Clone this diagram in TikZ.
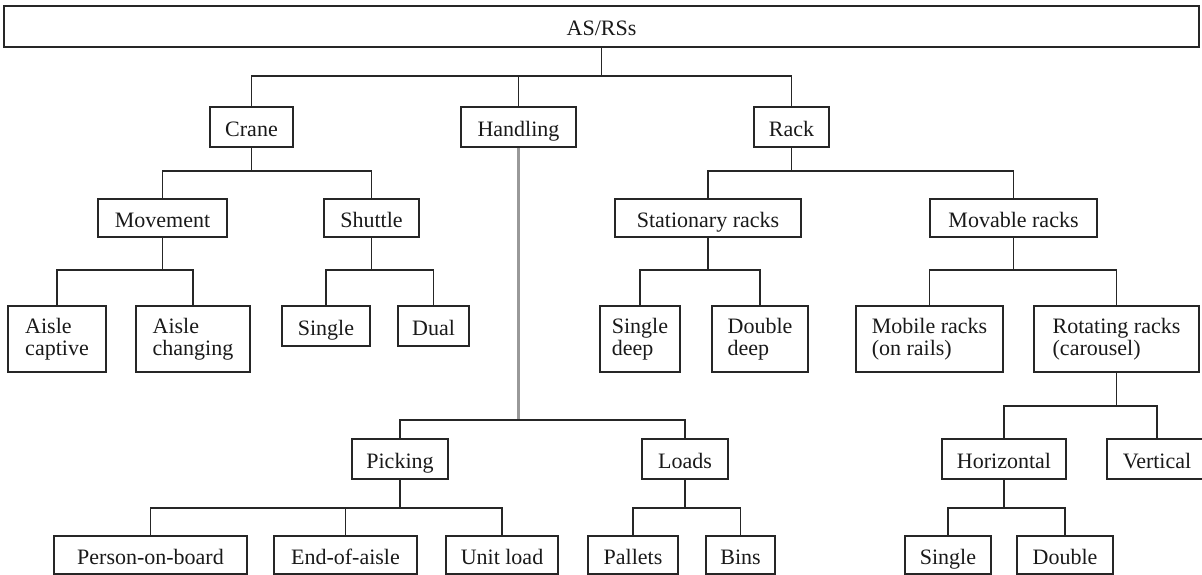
\documentclass[tikz,border=0pt]{standalone}
\usepackage{fontspec}
\setmainfont{Liberation Serif}
\newcommand\mkbox[7][sl]{\node[bx,#1,minimum width={(#5)-(#3)},minimum height={(#6)-(#4)}] (#2) at ({((#3)+(#5))/2},{((#4)+(#6))/2}) {#7};}
\begin{document}
\begin{tikzpicture}[x=1pt,y=-1pt,
  bx/.style={draw=black!85,line width=1.8pt,inner sep=0pt,align=left,font=\fontsize{22}{22.5}\selectfont,text=black!90},
  sl/.style={text height=19pt,text depth=0pt},
  ml/.style={},
  ln/.style={draw=black!85,line width=1.8pt},
  gl/.style={draw=black!40,line width=2.2pt}]
\useasboundingbox (0,0) rectangle (1202,575);
% levels
\coordinate (yA) at (0,76);
\coordinate (yB) at (0,171);
\coordinate (yC) at (0,270);
\coordinate (yD) at (0,420);
\coordinate (yE) at (0,406);
\coordinate (yF) at (0,508);
% boxes
\mkbox{root}{4}{6}{1199}{47}{AS/RSs}
\mkbox{crane}{210}{107}{293}{147}{Crane}
\mkbox{handling}{461}{107}{576}{147}{Handling}
\mkbox{rack}{754}{107}{829}{147}{Rack}
\mkbox{movement}{98}{199}{227}{237}{Movement}
\mkbox{shuttle}{324}{199}{419}{237}{Shuttle}
\mkbox{stat}{615}{199}{801}{237}{Stationary racks}
\mkbox{movable}{930}{199}{1097}{237}{Movable racks}
\mkbox[ml]{acap}{8}{306}{106}{372}{Aisle\\captive}
\mkbox[ml]{achg}{136}{306}{250}{372}{Aisle\\changing}
\mkbox{ssingle}{282}{306}{370}{346}{Single}
\mkbox{dual}{398}{306}{469}{346}{Dual}
\mkbox[ml]{sdeep}{600}{306}{680}{372}{Single\\deep}
\mkbox[ml]{ddeep}{712}{306}{808}{372}{Double\\deep}
\mkbox[ml]{mobile}{856}{306}{1003}{372}{Mobile racks\\(on rails)}
\mkbox[ml]{rotating}{1034}{306}{1199}{372}{Rotating racks\\(carousel)}
\mkbox{picking}{352}{439}{448}{479}{Picking}
\mkbox{loads}{642}{439}{728}{479}{Loads}
\mkbox{horiz}{942}{439}{1066}{479}{Horizontal}
\mkbox{vert}{1107}{439}{1207}{479}{Vertical}
\mkbox{pob}{54}{536}{247}{574}{Person-on-board}
\mkbox{eoa}{274}{536}{417}{574}{End-of-aisle}
\mkbox{unit}{446}{536}{558}{574}{Unit load}
\mkbox{pallets}{588}{536}{678}{574}{Pallets}
\mkbox{bins}{706}{536}{775}{574}{Bins}
\mkbox{hsingle}{905}{536}{991}{574}{Single}
\mkbox{hdouble}{1017}{536}{1113}{574}{Double}
% connectors
\draw[ln] (root.south) -- (root.south |- yA);
\draw[ln] (crane.north) |- (rack.north |- yA) -- (rack.north);
\draw[ln] (handling.north) -- (handling.north |- yA);
\draw[ln] (crane.south) -- (crane.south |- yB);
\draw[ln] (movement.north) |- (shuttle.north |- yB) -- (shuttle.north);
\draw[ln] (rack.south) -- (rack.south |- yB);
\draw[ln] (stat.north) |- (movable.north |- yB) -- (movable.north);
\draw[ln] (movement.south) -- (movement.south |- yC);
\draw[ln] (acap.north) |- (achg.north |- yC) -- (achg.north);
\draw[ln] (shuttle.south) -- (shuttle.south |- yC);
\draw[ln] (ssingle.north) |- (dual.north |- yC) -- (dual.north);
\draw[ln] (stat.south) -- (stat.south |- yC);
\draw[ln] (sdeep.north) |- (ddeep.north |- yC) -- (ddeep.north);
\draw[ln] (movable.south) -- (movable.south |- yC);
\draw[ln] (mobile.north) |- (rotating.north |- yC) -- (rotating.north);
\draw[gl] (handling.south) -- (handling.south |- yD);
\draw[ln] (picking.north) |- (loads.north |- yD) -- (loads.north);
\draw[ln] (rotating.south) -- (rotating.south |- yE);
\draw[ln] (horiz.north) |- (vert.north |- yE) -- (vert.north);
\draw[ln] (picking.south) -- (picking.south |- yF);
\draw[ln] (pob.north) |- (unit.north |- yF) -- (unit.north);
\draw[ln] (eoa.north) -- (eoa.north |- yF);
\draw[ln] (loads.south) -- (loads.south |- yF);
\draw[ln] (pallets.north) |- (bins.north |- yF) -- (bins.north);
\draw[ln] (horiz.south) -- (horiz.south |- yF);
\draw[ln] (hsingle.north) |- (hdouble.north |- yF) -- (hdouble.north);
\end{tikzpicture}
\end{document}
